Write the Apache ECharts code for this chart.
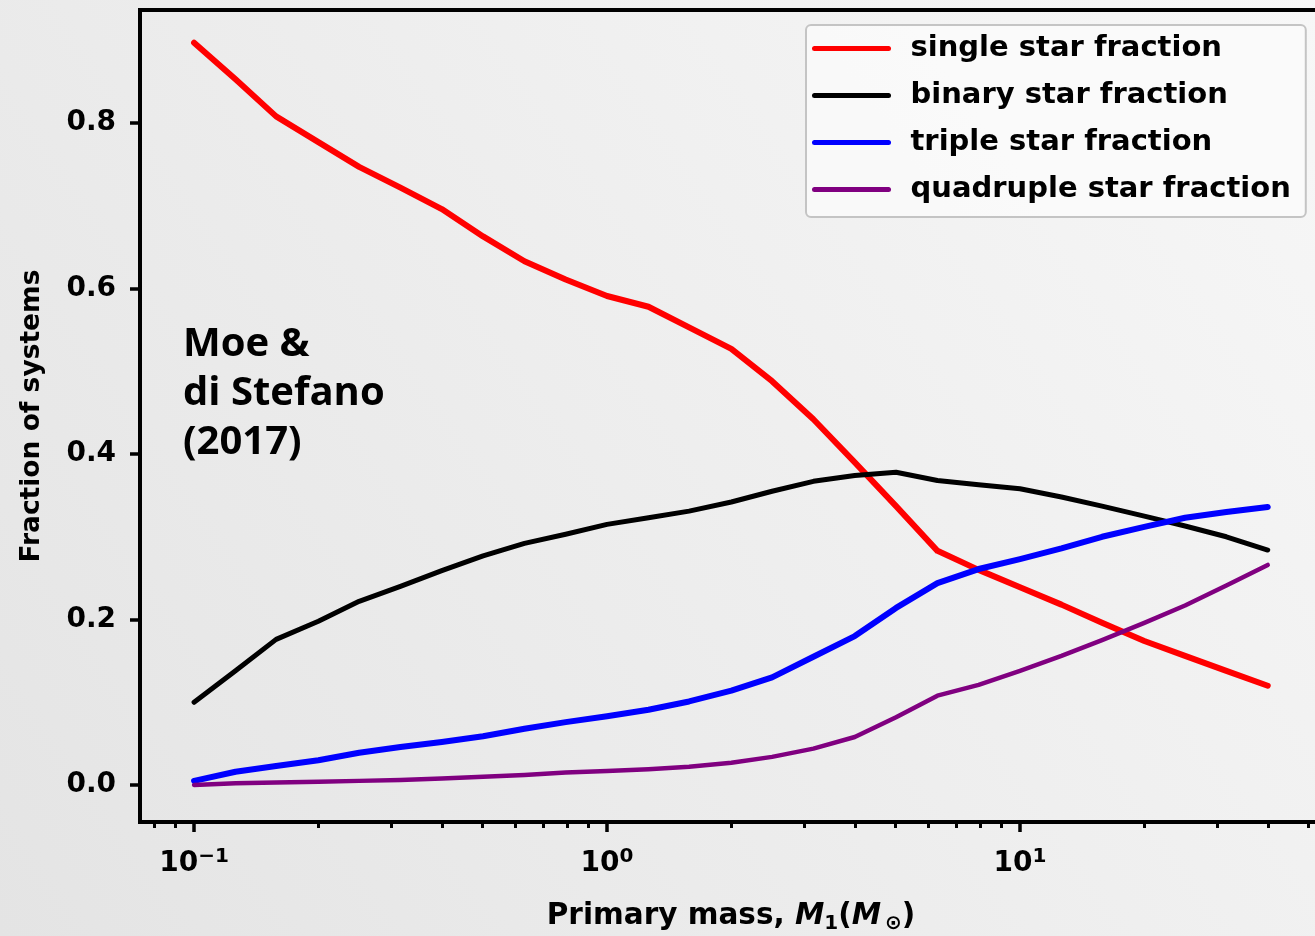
<!DOCTYPE html>
<html>
<head>
<meta charset="utf-8">
<script src="https://cdn.jsdelivr.net/npm/echarts@6/dist/echarts.min.js"></script>
<style>
html,body{margin:0;padding:0;width:1315px;height:936px;overflow:hidden;}
#chart{width:1315px;height:936px;}
</style>
</head>
<body>
<div id="chart"></div>
<script>
// Primary mass (M_sun)
var masses = [0.1, 0.126, 0.158, 0.2, 0.251, 0.316, 0.398, 0.501, 0.631, 0.794,
              1, 1.26, 1.58, 2, 2.51, 3.16, 3.98, 5.01, 6.31, 7.94,
              10, 12.6, 15.8, 20, 25.1, 31.6, 39.8];
var singleFrac = [0.897, 0.853, 0.808, 0.777, 0.747, 0.722, 0.696, 0.663, 0.633, 0.611,
                  0.591, 0.578, 0.553, 0.527, 0.488, 0.442, 0.390, 0.337, 0.283, 0.260,
                  0.239, 0.218, 0.196, 0.174, 0.156, 0.138, 0.120];
var binaryFrac = [0.100, 0.138, 0.176, 0.198, 0.222, 0.240, 0.259, 0.277, 0.292, 0.303,
                  0.315, 0.323, 0.331, 0.342, 0.355, 0.367, 0.374, 0.378, 0.368, 0.363,
                  0.358, 0.348, 0.337, 0.325, 0.313, 0.300, 0.284];
var tripleFrac = [0.005, 0.016, 0.023, 0.030, 0.039, 0.046, 0.052, 0.059, 0.068, 0.076,
                  0.083, 0.091, 0.101, 0.114, 0.130, 0.155, 0.180, 0.214, 0.244, 0.261,
                  0.273, 0.286, 0.300, 0.312, 0.323, 0.330, 0.336];
var quadFrac = [0.000, 0.002, 0.003, 0.004, 0.005, 0.006, 0.008, 0.010, 0.012, 0.015,
                0.017, 0.019, 0.022, 0.027, 0.034, 0.044, 0.058, 0.082, 0.108, 0.121,
                0.138, 0.156, 0.175, 0.196, 0.217, 0.241, 0.266];
var seriesNames = ['single star fraction', 'binary star fraction', 'triple star fraction', 'quadruple star fraction'];
var seriesColors = ['#ff0000', '#000000', '#0000ff', '#800080'];
var yTicks = [0, 0.2, 0.4, 0.6, 0.8];
var xMajorTicks = [0.1, 1, 10];
var xMinorTicks = [0.08, 0.09, 0.2, 0.3, 0.4, 0.5, 0.6, 0.7, 0.8, 0.9,
                   2, 3, 4, 5, 6, 7, 8, 9, 20, 30, 40, 50];
var xMin = 0.07397, xMax = 59.55;
var yMin = -0.0447, yMax = 0.9366;
var annotation = 'Moe &\ndi Stefano\n(2017)';

function pairs(ys) { return masses.map(function (m, i) { return [m, ys[i]]; }); }
var allY = [singleFrac, binaryFrac, tripleFrac, quadFrac];
var widths = [6, 5, 6, 4.5];

var FONT = 'DejaVu Sans';
var chart = echarts.init(document.getElementById('chart'));
var log10 = function (v) { return Math.log(v) / Math.LN10; };

var option = {
  animation: false,
  backgroundColor: {
    type: 'linear', x: 0, y: 1, x2: 1, y2: 0,
    colorStops: [{ offset: 0, color: '#e4e4e4' }, { offset: 1, color: '#f7f7f7' }]
  },
  grid: {
    left: 140, top: 10, bottom: 114, width: 1200,
    outerBoundsMode: 'none', containLabel: false,
    show: true, borderColor: '#000', borderWidth: 4, backgroundColor: 'transparent'
  },
  legend: {
    orient: 'vertical', left: 806, top: 25,
    itemWidth: 74, itemHeight: 28, itemGap: 18,
    padding: [9, 15, 13, 6],
    backgroundColor: 'rgba(250,250,250,0.85)',
    borderColor: '#c4c4c4', borderWidth: 2, borderRadius: 5,
    itemStyle: { opacity: 0 },
    lineStyle: { width: 5 },
    textStyle: { fontFamily: FONT, fontWeight: 'bold', fontSize: 29, color: '#000', padding: [0, 0, 0, 17] },
    data: seriesNames
  },
  xAxis: [
    {
      type: 'log', logBase: 10, min: xMin, max: xMax, position: 'bottom',
      axisLine: { show: true, onZero: false, lineStyle: { color: '#000', width: 4 } },
      axisTick: { show: false },
      splitLine: { show: false },
      axisLabel: {
        margin: 25, color: '#000',
        fontFamily: FONT, fontWeight: 'bold', fontSize: 28,
        formatter: function (v) {
          var e = log10(v);
          if (Math.abs(e - Math.round(e)) > 1e-6) return '';
          e = Math.round(e);
          return '{b|10}{s|' + (e < 0 ? '\u2212' : '') + Math.abs(e) + '}';
        },
        rich: {
          b: { fontFamily: FONT, fontWeight: 'bold', fontSize: 28, color: '#000', lineHeight: 34 },
          s: { fontFamily: FONT, fontWeight: 'bold', fontSize: 20, color: '#000', lineHeight: 34, verticalAlign: 'top', padding: [0, 0, 14, 0] }
        }
      },
      name: '{a|Primary mass, }{i|M}{u|1}{a|(}{i|M}{u|\u2009\u2299}{a|)}',
      nameLocation: 'middle', nameGap: 76,
      nameTextStyle: {
        padding: [0, 18, 0, 0],
        rich: {
          a: { fontFamily: FONT, fontWeight: 'bold', fontSize: 29.5, color: '#000', lineHeight: 36 },
          i: { fontFamily: FONT, fontWeight: 'bold', fontStyle: 'italic', fontSize: 29.5, color: '#000', lineHeight: 36 },
          u: { fontFamily: FONT, fontWeight: 'bold', fontSize: 20, color: '#000', lineHeight: 36, verticalAlign: 'bottom', padding: [9, 0, 0, 0] }
        }
      }
    },
    {
      type: 'value', min: log10(xMin), max: log10(xMax), position: 'bottom', offset: 0,
      axisLine: { show: false, onZero: false }, splitLine: { show: false }, axisLabel: { show: false },
      axisTick: { show: true, length: 10, customValues: xMajorTicks.map(log10), lineStyle: { color: '#000', width: 3.5 } }
    },
    {
      type: 'value', min: log10(xMin), max: log10(xMax), position: 'bottom', offset: 0,
      axisLine: { show: false, onZero: false }, splitLine: { show: false }, axisLabel: { show: false },
      axisTick: { show: true, length: 6, customValues: xMinorTicks.map(log10), lineStyle: { color: '#000', width: 3 } }
    }
  ],
  yAxis: {
    type: 'value', min: yMin, max: yMax, position: 'left',
    axisLine: { show: true, onZero: false, lineStyle: { color: '#000', width: 4 } },
    axisTick: { show: true, length: 10, customValues: yTicks, lineStyle: { color: '#000', width: 3.5 } },
    splitLine: { show: false },
    axisLabel: {
      customValues: yTicks, margin: 24, color: '#000',
      fontFamily: FONT, fontWeight: 'bold', fontSize: 28,
      formatter: function (v) { return v.toFixed(1); }
    },
    name: 'Fraction of systems', nameLocation: 'middle', nameGap: 94,
    nameTextStyle: { fontFamily: FONT, fontWeight: 'bold', fontSize: 26.5, color: '#000' }
  },
  graphic: [{
    type: 'text', left: 183, top: 320,
    style: {
      text: annotation, fill: '#000',
      font: 'bold 40px "Open Sans"', lineHeight: 49
    }
  }],
  series: allY.map(function (ys, i) {
    return {
      name: seriesNames[i], type: 'line', xAxisIndex: 0,
      data: pairs(ys), symbol: 'none', smooth: false,
      lineStyle: { color: seriesColors[i], width: widths[i], cap: 'round', join: 'round' },
      itemStyle: { color: seriesColors[i] }
    };
  })
};
chart.setOption(option);
</script>
</body>
</html>
